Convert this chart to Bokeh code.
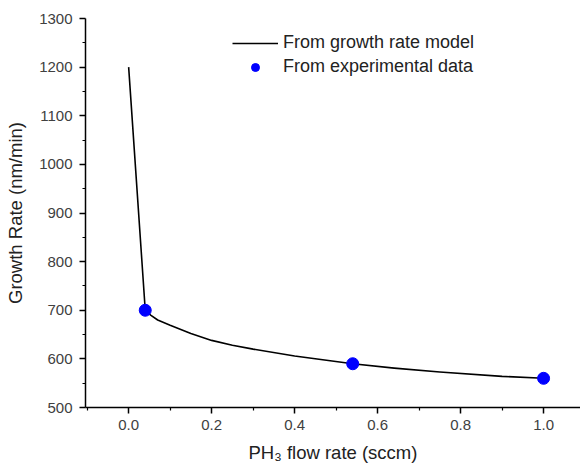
from bokeh.plotting import figure
from bokeh.models import Range1d, Legend, LegendItem, FixedTicker, NumeralTickFormatter
from bokeh.embed import file_html
from bokeh.resources import INLINE

# Model curve
model_x = [0.0, 0.04, 0.053, 0.07, 0.1, 0.15, 0.2, 0.25, 0.3, 0.4, 0.54, 0.64, 0.75, 0.9, 1.0]
model_y = [1200, 700, 690, 680, 669, 652, 638, 628, 620, 606, 590, 581, 573, 564, 560]

# Experimental data
exp_x = [0.04, 0.54, 1.0]
exp_y = [700, 590, 560]

x_ticks = [0.0, 0.2, 0.4, 0.6, 0.8, 1.0]
y_ticks = [500, 600, 700, 800, 900, 1000, 1100, 1200, 1300]

FONT = "Liberation Sans"

p = figure(width=580, height=466, output_backend="svg", toolbar_location=None,
           x_range=Range1d(-0.104, 1.089), y_range=Range1d(500, 1300),
           min_border_left=85, min_border_right=0, min_border_top=18,
           min_border_bottom=59)
p.frame_width = 495
p.frame_height = 389
p.outline_line_color = None
p.xgrid.visible = False
p.ygrid.visible = False
p.background_fill_color = "white"
p.border_fill_color = "white"

line_r = p.line(model_x, model_y, line_color="black", line_width=1.6, line_join="round")
pts_r = p.scatter(exp_x, exp_y, size=12, fill_color="#0000ff", line_color="#0000ff")

for ax in (p.xaxis[0], p.yaxis[0]):
    ax.axis_line_color = "black"
    ax.axis_line_width = 1.5
    ax.major_tick_line_color = "black"
    ax.minor_tick_line_color = "black"
    ax.major_tick_line_width = 1.5
    ax.minor_tick_line_width = 1.2
    ax.major_tick_out = 6
    ax.major_tick_in = 0
    ax.minor_tick_out = 3
    ax.minor_tick_in = 0
    ax.major_label_text_font = FONT
    ax.major_label_text_font_size = "15px"
    ax.major_label_text_color = "#404040"
    ax.axis_label_text_font = FONT
    ax.axis_label_text_font_size = "18.5px"
    ax.axis_label_text_font_style = "normal"
    ax.axis_label_text_color = "#222222"

p.xaxis[0].ticker = FixedTicker(ticks=x_ticks, minor_ticks=[-0.1, 0.1, 0.3, 0.5, 0.7, 0.9])
p.xaxis[0].formatter = NumeralTickFormatter(format="0.0")
p.yaxis[0].ticker = FixedTicker(ticks=y_ticks, minor_ticks=[550, 650, 750, 850, 950, 1050, 1150, 1250])
p.xaxis[0].axis_label = "PH₃ flow rate (sccm)"
p.yaxis[0].axis_label = "Growth Rate (nm/min)"
p.xaxis[0].major_label_standoff = 6
p.yaxis[0].major_label_standoff = 7
p.xaxis[0].axis_label_standoff = 9
p.yaxis[0].axis_label_standoff = 10

legend = Legend(items=[LegendItem(label="From growth rate model", renderers=[line_r]),
                       LegendItem(label="From experimental data", renderers=[pts_r])],
                location=(147, 330))
legend.border_line_color = None
legend.background_fill_alpha = 0
legend.padding = 0
legend.margin = 0
legend.spacing = 3
legend.glyph_width = 46
legend.glyph_height = 20
legend.label_height = 20
legend.label_standoff = 5
legend.label_text_font = FONT
legend.label_text_font_size = "18px"
legend.label_text_color = "#222222"
p.add_layout(legend, "center")

open("out.html", "w").write(file_html(p, INLINE))
